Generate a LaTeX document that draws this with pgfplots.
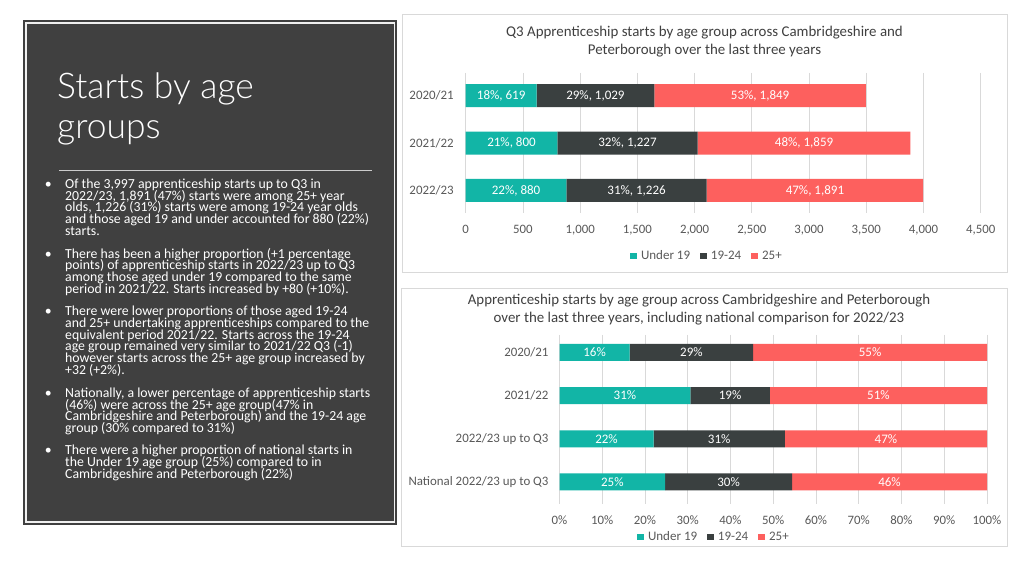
\documentclass[border=0pt]{standalone}
\usepackage{fontspec}
\setmainfont{Carlito}
\newfontfamily\lightfont{Lato Light}
\usepackage{pgfplots}
\pgfplotsset{compat=1.18}
\usepackage{pgfplotstable}
\definecolor{cteal}{RGB}{18,181,166}
\definecolor{cdark}{RGB}{58,64,64}
\definecolor{cred}{RGB}{253,96,94}
\definecolor{panel}{RGB}{64,64,64}
\definecolor{ctitle}{RGB}{64,64,64}
\definecolor{ctick}{RGB}{89,89,89}
\definecolor{cgrid}{RGB}{217,217,217}

\pgfplotstableread{
cat a ap b bp c cp
0 619 18 1029 29 1849 53
1 800 21 1227 32 1859 48
2 880 22 1226 31 1891 47
}\topdata

\pgfplotstableread{
cat a b c
0 16.4 28.9 54.7
1 30.6 18.6 50.8
2 22.0 30.7 47.3
3 24.7 29.7 45.6
}\botdata

\newcommand{\pl}[2]{\node[anchor=base west,inner sep=0pt,text=white,font=\fontsize{13.8}{14}\selectfont] at (65pt,{(576-#1)*1pt}) {#2};}
\newcommand{\bl}[1]{\node[anchor=base,inner sep=0pt,text=white,font=\fontsize{13.8}{14}\selectfont] at (48.3pt,{(576-#1)*1pt}) {\textbullet};}
\newcommand{\ttl}[3]{\node[anchor=base,inner sep=0pt,text=ctitle,font=\fontsize{14.9}{16}\selectfont] at (#1pt,{(576-#2)*1pt}) {#3};}

\pgfplotsset{
  hbar/.style={
    xbar stacked, scale only axis, y dir=reverse,
    axis line style={draw=none}, major tick length=0pt, tick style={draw=none},
    xmajorgrids, grid style={cgrid, line width=0.75pt},
    tick label style={font=\fontsize{12.8}{14}\selectfont, text=ctick},
    yticklabel style={font=\fontsize{12.9}{14}\selectfont},
    enlarge x limits=false, enlarge y limits=false,
    /pgf/number format/assume math mode=true,
    legend columns=3,
    legend style={draw=none, fill=none, font=\fontsize{13}{14}\selectfont, text=ctick,
      /tikz/every even column/.append style={column sep=8pt},
      /tikz/every odd column/.append style={column sep=2pt}},
    legend image code/.code={\fill[##1] (0pt,-3.3pt) rectangle (6.8pt,3.3pt);},
    xticklabel style={yshift=-9pt},
  },
  ovl/.style={
    scale only axis, y dir=reverse, hide axis, clip=false,
    enlarge x limits=false, enlarge y limits=false,
    /pgf/number format/assume math mode=true,
    nodes near coords align=center,
    every node near coord/.style={text=white, font=\fontsize{13}{14}\selectfont, anchor=center, inner sep=0pt},
  },
  lbl/.style={draw=none, mark=none, nodes near coords align=center},
}

\begin{document}
\begin{tikzpicture}
\useasboundingbox (0pt,0pt) rectangle (1024pt,576pt);
\fill[white] (0pt,0pt) rectangle (1024pt,576pt);

% left panel
\fill[panel] (23pt,51pt) rectangle (397pt,556pt);
\draw[white!94!black, line width=1.2pt] (26pt,54pt) rectangle (394.8pt,553pt);
\node[anchor=base west,inner sep=0pt,text=white,font=\lightfont\fontsize{35.4}{40}\selectfont] at (57pt,477pt) {Starts by age};
\node[anchor=base west,inner sep=0pt,text=white,font=\lightfont\fontsize{35.4}{40}\selectfont] at (57pt,437pt) {groups};
\draw[white!80!black, line width=1.3pt] (59.4pt,405.4pt) -- (371.5pt,405.4pt);

\bl{188.5}
\pl{188.5}{Of the 3,997 apprenticeship starts up to Q3 in}
\pl{200.25}{2022/23, 1,891 (47\%) starts were among 25+ year}
\pl{212.0}{olds, 1,226 (31\%) starts were among 19-24 year olds}
\pl{223.75}{and those aged 19 and under accounted for 880 (22\%)}
\pl{235.5}{starts.}
\bl{258.1}
\pl{258.1}{There has been a higher proportion (+1 percentage}
\pl{269.85}{points) of apprenticeship starts in 2022/23 up to Q3}
\pl{281.6}{among those aged under 19 compared to the same}
\pl{293.35}{period in 2021/22. Starts increased by +80 (+10\%).}
\bl{315.6}
\pl{315.6}{There were lower proportions of those aged 19-24}
\pl{327.35}{and 25+ undertaking apprenticeships compared to the}
\pl{339.1}{equivalent period 2021/22. Starts across the 19-24}
\pl{350.85}{age group remained very similar to 2021/22 Q3 (-1)}
\pl{362.6}{however starts across the 25+ age group increased by}
\pl{374.35}{+32 (+2\%).}
\bl{397.3}
\pl{397.3}{Nationally, a lower percentage of apprenticeship starts}
\pl{409.05}{(46\%) were across the 25+ age group(47\% in}
\pl{420.8}{Cambridgeshire and Peterborough) and the 19-24 age}
\pl{432.55}{group (30\% compared to 31\%)}
\bl{454.6}
\pl{454.6}{There were a higher proportion of national starts in}
\pl{466.35}{the Under 19 age group (25\%) compared to in}
\pl{478.1}{Cambridgeshire and Peterborough (22\%)}

% chart boxes
\draw[cgrid, line width=0.8pt] (402pt,304pt) rectangle (1007pt,562pt);
\draw[cgrid, line width=0.8pt] (401.5pt,29.5pt) rectangle (1007pt,288pt);

% titles
\ttl{704.5}{37}{Q3 Apprenticeship starts by age group across Cambridgeshire and}
\ttl{704.5}{55}{Peterborough over the last three years}
\ttl{699}{304}{Apprenticeship starts by age group across Cambridgeshire and Peterborough}
\ttl{699}{322}{over the last three years, including national comparison for 2022/23}

% top chart
\begin{axis}[hbar, at={(465.7pt,363pt)}, anchor=south west,
  width=515pt, height=140pt, xmin=0, xmax=4500, ymin=-0.479, ymax=2.475,
  bar width=23pt, xtick={0,500,...,4500}, scaled x ticks=false,
  ytick={0,1,2}, yticklabels={2020/21,2021/22,2022/23},
  yticklabel style={xshift=-8.5pt},
  legend style={at={(0.4685,-0.307)}, anchor=center}]
\addplot[fill=cteal, draw=none] table[x=a, y=cat] {\topdata};
\addplot[fill=cdark, draw=none] table[x=b, y=cat] {\topdata};
\addplot[fill=cred, draw=none] table[x=c, y=cat] {\topdata};
\legend{Under 19, 19-24, 25+}
\end{axis}
\begin{axis}[ovl, at={(465.7pt,363pt)}, anchor=south west,
  width=515pt, height=140pt, xmin=0, xmax=4500, ymin=-0.479, ymax=2.475]
\addplot[lbl, point meta=\thisrow{a},
  visualization depends on={\thisrow{ap}\as\pct},
  nodes near coords={\pgfmathprintnumber{\pct}\%, \pgfmathprintnumber{\pgfplotspointmeta}}]
  table[x expr={\thisrow{a}/2}, y=cat] {\topdata};
\addplot[lbl, point meta=\thisrow{b},
  visualization depends on={\thisrow{bp}\as\pct},
  nodes near coords={\pgfmathprintnumber{\pct}\%, \pgfmathprintnumber{\pgfplotspointmeta}}]
  table[x expr={\thisrow{a}+\thisrow{b}/2}, y=cat] {\topdata};
\addplot[lbl, point meta=\thisrow{c},
  visualization depends on={\thisrow{cp}\as\pct},
  nodes near coords={\pgfmathprintnumber{\pct}\%, \pgfmathprintnumber{\pgfplotspointmeta}}]
  table[x expr={\thisrow{a}+\thisrow{b}+\thisrow{c}/2}, y=cat] {\topdata};
\end{axis}

% bottom chart
\begin{axis}[hbar, at={(559.5pt,72.5pt)}, anchor=south west,
  width=427.5pt, height=168.6pt, xmin=0, xmax=100, ymin=-0.405, ymax=3.498,
  bar width=17pt, xtick={0,10,...,100}, xticklabel={\pgfmathprintnumber{\tick}\%},
  ytick={0,1,2,3}, yticklabels={2020/21,2021/22,2022/23 up to Q3,National 2022/23 up to Q3},
  yticklabel style={xshift=-7.5pt},
  legend style={at={(0.3614,-0.199)}, anchor=center}]
\addplot[fill=cteal, draw=none] table[x=a, y=cat] {\botdata};
\addplot[fill=cdark, draw=none] table[x=b, y=cat] {\botdata};
\addplot[fill=cred, draw=none] table[x=c, y=cat] {\botdata};
\legend{Under 19, 19-24, 25+}
\end{axis}
\begin{axis}[ovl, at={(559.5pt,72.5pt)}, anchor=south west,
  width=427.5pt, height=168.6pt, xmin=0, xmax=100, ymin=-0.405, ymax=3.498]
\addplot[lbl, point meta=\thisrow{a},
  nodes near coords={\pgfmathprintnumber[fixed,precision=0]{\pgfplotspointmeta}\%}]
  table[x expr={\thisrow{a}/2}, y=cat] {\botdata};
\addplot[lbl, point meta=\thisrow{b},
  nodes near coords={\pgfmathprintnumber[fixed,precision=0]{\pgfplotspointmeta}\%}]
  table[x expr={\thisrow{a}+\thisrow{b}/2}, y=cat] {\botdata};
\addplot[lbl, point meta=\thisrow{c},
  nodes near coords={\pgfmathprintnumber[fixed,precision=0]{\pgfplotspointmeta}\%}]
  table[x expr={\thisrow{a}+\thisrow{b}+\thisrow{c}/2}, y=cat] {\botdata};
\end{axis}
\end{tikzpicture}
\end{document}
